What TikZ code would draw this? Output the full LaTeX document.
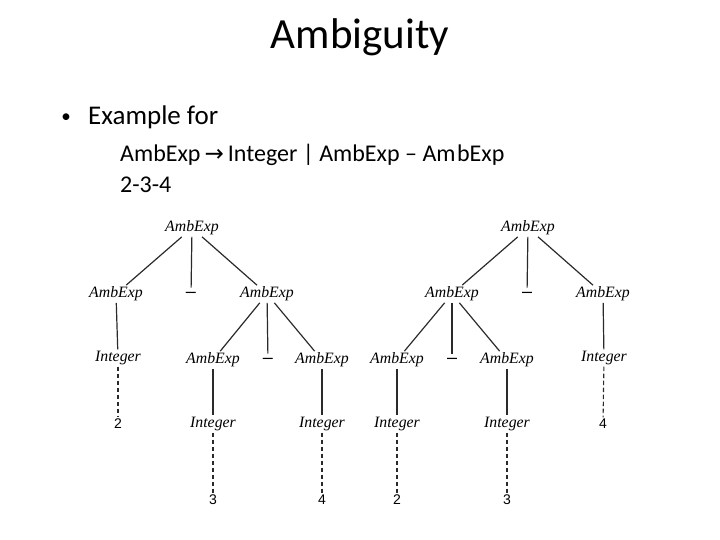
\documentclass[tikz,border=0pt]{standalone}
\usepackage{fontspec}
\setmainfont{Carlito}
\newfontfamily\treefont{Liberation Serif}
\newfontfamily\numfont{Liberation Sans}
\newfontfamily\symfont{DejaVu Sans}
\usepackage{xcolor}
\definecolor{ink}{HTML}{2A2A2A}
\usetikzlibrary{positioning}

\begin{document}
\begin{tikzpicture}[
      x=1pt, y=-1pt,
      every node/.style={inner sep=1.5pt, text=black},
      sym/.style={font=\treefont\fontsize{15.8}{18}\selectfont\itshape},
      num/.style={font=\numfont\fontsize{14}{16}\selectfont},
      minus/.style={font=\numfont\fontsize{18}{20}\selectfont, inner sep=0.5pt},
      edge/.style={draw=ink, line width=1.2pt},
      dedge/.style={draw=ink, line width=1.1pt, dash pattern=on 4.5pt off 2.5pt},
    ]
      \useasboundingbox (0,0) rectangle (720,540);
      % heading and bullet text
      \node[font=\fontsize{43}{50}\selectfont, anchor=base] (title) at (360,49) {Ambiguity};
      \node[font=\fontsize{19}{22}\selectfont, anchor=center] (dot) at (66,118) {•};
      \node[font=\fontsize{27}{32}\selectfont, anchor=base west, inner sep=0pt] (ex) at (88,125) {Example for};
      \node[font=\fontsize{24}{28}\selectfont, anchor=base west, inner sep=0pt] (rule) at (120,162)
        {AmbExp\,{\symfont\fontsize{23}{26}\selectfont →}\,Integer | AmbExp – Am\kern1.5pt bExp};
      \node[font=\fontsize{24}{28}\selectfont, anchor=base west, inner sep=0pt] (str) at (120,193) {2-3-4};
      % left tree
      \node[sym] (lroot) at (192,228) {AmbExp};
      \node[sym] (lleft) at (116,294) {AmbExp};
      \node[minus] (lminus) at (191,295) {–};
      \node[sym] (lright) at (267,294) {AmbExp};
      \node[sym] (lint) at (118,358) {Integer};
      \node[sym] (lrl) at (213,360) {AmbExp};
      \node[minus] (lrm) at (268,361) {–};
      \node[sym] (lrr) at (322,360) {AmbExp};
      \node[num] (ltwo) at (118,424) {2};
      \node[sym] (lrlint) at (213,424) {Integer};
      \node[sym] (lrrint) at (322,424) {Integer};
      \node[num] (lthree) at (213,500) {3};
      \node[num] (lfour) at (322,500) {4};
      \draw[edge] (lroot) -- (lleft);
      \draw[edge, shorten >=4pt] (lroot) -- (lminus);
      \draw[edge] (lroot) -- (lright);
      \draw[edge] (lleft) -- (lint);
      \draw[edge] (lright) -- (lrl);
      \draw[edge, shorten >=4pt] (lright) -- (lrm);
      \draw[edge] (lright) -- (lrr);
      \draw[edge] (lrl) -- (lrlint);
      \draw[edge] (lrr) -- (lrrint);
      \draw[dedge] (lint) -- (ltwo);
      \draw[dedge] (lrlint) -- (lthree);
      \draw[dedge] (lrrint) -- (lfour);
      % right tree
      \node[sym] (rroot) at (528,228) {AmbExp};
      \node[sym] (rleft) at (452,294) {AmbExp};
      \node[minus] (rminus) at (527,295) {–};
      \node[sym] (rright) at (603,294) {AmbExp};
      \node[sym] (rll) at (397,360) {AmbExp};
      \node[minus] (rlm) at (452,361) {–};
      \node[sym] (rlr) at (507,360) {AmbExp};
      \node[sym] (rint) at (604,358) {Integer};
      \node[sym] (rllint) at (397,424) {Integer};
      \node[sym] (rlrint) at (507,424) {Integer};
      \node[num] (rfour) at (603,424) {4};
      \node[num] (rtwo) at (397,500) {2};
      \node[num] (rthree) at (507,500) {3};
      \draw[edge] (rroot) -- (rleft);
      \draw[edge, shorten >=4pt] (rroot) -- (rminus);
      \draw[edge] (rroot) -- (rright);
      \draw[edge] (rleft) -- (rll);
      \draw[edge, shorten >=4pt] (rleft) -- (rlm);
      \draw[edge] (rleft) -- (rlr);
      \draw[edge] (rright) -- (rint);
      \draw[edge] (rll) -- (rllint);
      \draw[edge] (rlr) -- (rlrint);
      \draw[dedge] (rint) -- (rfour);
      \draw[dedge] (rllint) -- (rtwo);
      \draw[dedge] (rlrint) -- (rthree);
    \end{tikzpicture}
\end{document}
